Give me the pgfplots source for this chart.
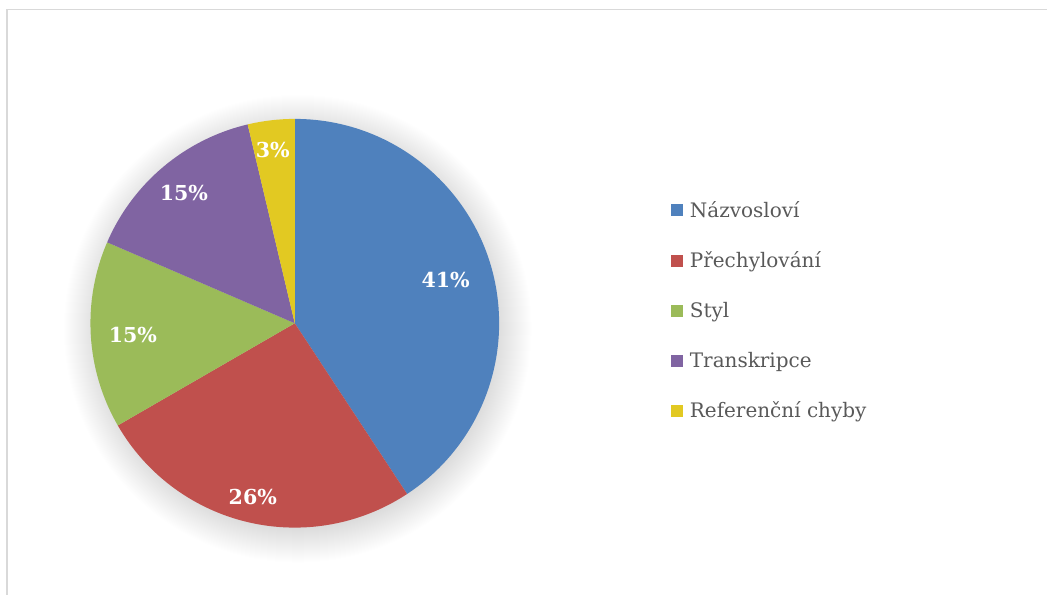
\documentclass[border=0pt]{standalone}
\usepackage{fontspec}
\setmainfont{DejaVu Serif}
\usepackage{pgfplots}
\usepackage{pgfplotstable}
\pgfplotsset{compat=1.18}
\definecolor{cBlue}{HTML}{4F81BD}
\definecolor{cRed}{HTML}{C0504D}
\definecolor{cGreen}{HTML}{9BBB59}
\definecolor{cPurple}{HTML}{8064A2}
\definecolor{cYellow}{HTML}{E2C922}
\definecolor{legGray}{HTML}{595959}
\definecolor{frameGray}{HTML}{D9D9D9}
% value = count; pct = printed label; lx,ly = label centre; legy = legend row centre (pixel units, y up)
\pgfplotstableread[col sep=comma,row sep=\\]{
name,value,pct,lx,ly,legy,col\\
Názvosloví,11,41,446,315,384.5,cBlue\\
Přechylování,7,26,253,98,334,cRed\\
Styl,4,15,133,260,284,cGreen\\
Transkripce,4,15,184,402,234,cPurple\\
Referenční chyby,1,3,273,445,184,cYellow\\
}\piedata
\begin{document}
\begin{tikzpicture}
\begin{axis}[hide axis, scale only axis, width=524pt, height=297.5pt,
  xmin=0, xmax=1048, ymin=0, ymax=595, clip=false]
\pgfplotsextra{
  \path (axis cs:0,0) rectangle (axis cs:1048,595);
  % frame
  \draw[draw=frameGray, line width=0.8pt] (axis cs:7,0) -- (axis cs:7,585.3) -- (axis cs:1048,585.3);
  % soft shadow
  \foreach \k in {0,...,36}{
    \fill[black, opacity=0.0048] (axis cs:298,266) circle[radius={(198+\k)*0.5pt}];
  }
  % total
  \gdef\total{0}
  \foreach \i in {0,...,4}{%
    \pgfplotstablegetelem{\i}{value}\of\piedata
    \pgfmathsetmacro\tmp{\total+\pgfplotsretval}%
    \xdef\total{\tmp}%
  }
  \gdef\cum{0}
  \foreach \i in {0,...,4}{%
    \pgfplotstablegetelem{\i}{value}\of\piedata \let\val\pgfplotsretval
    \pgfplotstablegetelem{\i}{col}\of\piedata \let\slicecol\pgfplotsretval
    \pgfmathsetmacro\angA{90-360*\cum/\total}%
    \pgfmathsetmacro\angB{90-360*(\cum+\val)/\total}%
    \fill[fill=\slicecol] (axis cs:295,271.5) -- ++(\angA:102.25pt) arc[start angle=\angA, end angle=\angB, radius=102.25pt] -- cycle;
    \pgfmathsetmacro\tmp{\cum+\val}%
    \xdef\cum{\tmp}%
  }
  % labels and legend
  \foreach \i in {0,...,4}{%
    \pgfplotstablegetelem{\i}{pct}\of\piedata \let\pct\pgfplotsretval
    \pgfplotstablegetelem{\i}{lx}\of\piedata \let\lx\pgfplotsretval
    \pgfplotstablegetelem{\i}{ly}\of\piedata \let\ly\pgfplotsretval
    \pgfplotstablegetelem{\i}{legy}\of\piedata \let\legy\pgfplotsretval
    \pgfplotstablegetelem{\i}{col}\of\piedata \let\slicecol\pgfplotsretval
    \pgfplotstablegetelem{\i}{name}\of\piedata \let\nm\pgfplotsretval
    \node[text=white, font=\fontsize{10.3}{12}\selectfont\bfseries, inner sep=0pt] at (axis cs:\lx,\ly) {\pct\%};
    \fill[fill=\slicecol] (axis cs:672,\legy-6) rectangle (axis cs:684,\legy+6);
    \node[anchor=base west, inner sep=0pt, text=legGray, font=\fontsize{10}{12}\selectfont] at (axis cs:690,\legy-7) {\nm};
  }
}
\end{axis}
\end{tikzpicture}
\end{document}
